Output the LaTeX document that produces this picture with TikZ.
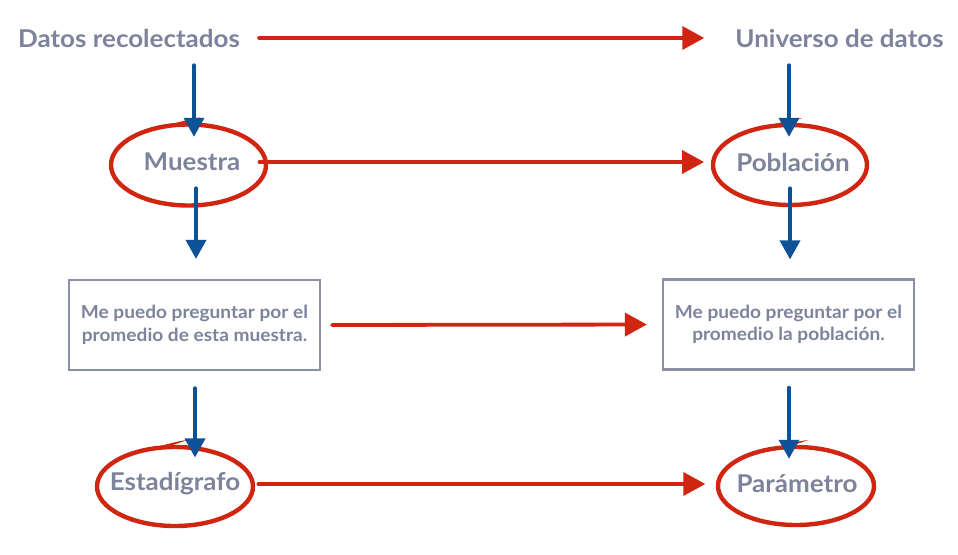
\documentclass[tikz,border=0pt]{standalone}
\usepackage{fontspec}
\setmainfont{Lato}[FakeStretch=1.06]
\usetikzlibrary{arrows.meta}
\definecolor{txtc}{HTML}{7C839B}
\definecolor{redc}{HTML}{D02510}
\definecolor{bluec}{HTML}{0D5296}
\definecolor{boxc}{HTML}{8B8FA3}
\newcommand\handring[4]{%
  \draw[ring] (#1,#2) ellipse [x radius=#3, y radius=#4];
  \fill[redc] (#1-30,#2-#4+3) .. controls (#1-10,#2-#4-2) and (#1+2,#2-#4-6) .. (#1+12,#2-#4-7)
     .. controls (#1+2,#2-#4-3) and (#1-10,#2-#4+1) .. cycle;
}
\begin{document}
\begin{tikzpicture}[x=1pt,y=-1pt,
  lbl/.style={inner sep=0pt, minimum height=20pt, text=txtc, font=\fontsize{24.5}{28}\selectfont\bfseries},
  boxnode/.style={draw=boxc, line width=2.2pt, inner sep=0pt, minimum width=251pt, minimum height=90pt,
     align=center, text=txtc, font=\fontsize{18}{22.5}\selectfont\bfseries},
  redarr/.style={draw=redc, line width=3.8pt, line cap=round, -{Triangle[length=22pt,width=23pt]}},
  bluearr/.style={draw=bluec, line width=3.6pt, line cap=round, -{Triangle[length=19pt,width=20pt]}},
  ring/.style={draw=redc, line width=4.4pt}]
\useasboundingbox (0,0) rectangle (958,554);
\fill[white] (0,0) rectangle (958,554);

% rings
\handring{188.5}{165}{77.5}{40.5}
\handring{790}{165}{77}{40}
\handring{175}{486.5}{78}{39.5}
\handring{796}{486}{78}{39}

% nodes
\node[lbl, minimum width=218pt] (datos) at (129,38) {Datos recolectados};
\node[lbl, minimum width=203pt] (universo) at (839.5,38) {Universo de datos};
\node[lbl, minimum width=92pt] (muestra) at (192,162) {Muestra};
\node[lbl, minimum width=112pt] (poblacion) at (793,162) {Población};
\node[boxnode] (lbox) at (194.5,325) {Me puedo preguntar por el\\promedio de esta muestra.};
\node[boxnode] (rbox) at (788.5,324.5) {Me puedo preguntar por el\\promedio la población.};
\node[lbl, minimum width=128pt] (estad) at (175,484) {Estadígrafo};
\node[lbl, minimum width=118pt] (param) at (797,484) {Parámetro};

% red connectors
\draw[redarr, shorten <=19pt, shorten >=31pt] (datos.east) -- (universo.west);
\draw[redarr, shorten <=19pt, shorten >=32pt] (muestra.east) -- (poblacion.west);
\draw[redarr, shorten <=11pt, shorten >=15pt] (lbox.east) -- (rbox.west);
\draw[redarr, shorten <=18pt, shorten >=31pt] (estad.east) -- (param.west);

% blue connectors
\draw[bluearr, shorten <=17pt, shorten >=15pt] ([xshift=65pt]datos.south) -- ([xshift=2pt]muestra.north);
\draw[bluearr, shorten <=17pt, shorten >=15pt] ([xshift=-50.5pt]universo.south) -- ([xshift=-4pt]poblacion.north);
\draw[bluearr, shorten <=16pt, shorten >=20pt] ([xshift=4pt]muestra.south) -- ([xshift=1.5pt]lbox.north);
\draw[bluearr, shorten <=16pt, shorten >=19pt] ([xshift=-3pt]poblacion.south) -- ([xshift=1.5pt]rbox.north);
\draw[bluearr, shorten <=17pt, shorten >=15pt] ([xshift=0.5pt]lbox.south) -- ([xshift=20pt]estad.north);
\draw[bluearr, shorten <=17pt, shorten >=15pt] ([xshift=0.5pt]rbox.south) -- ([xshift=-8pt]param.north);
\end{tikzpicture}
\end{document}
